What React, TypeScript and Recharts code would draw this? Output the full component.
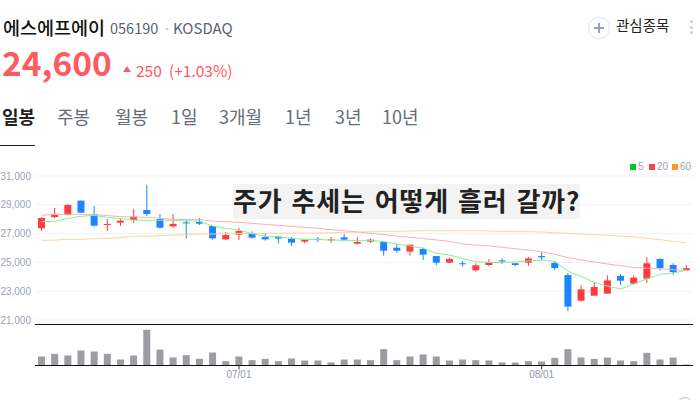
import React from "react";
import { ComposedChart, Bar, Line, XAxis, YAxis, CartesianGrid, ReferenceLine } from "recharts";

const dates = ["06/10","06/11","06/12","06/13","06/14","06/17","06/18","06/19","06/20","06/21","06/24","06/25","06/26","06/27","06/28","07/01","07/02","07/03","07/04","07/05","07/08","07/09","07/10","07/11","07/12","07/15","07/16","07/17","07/18","07/19","07/22","07/23","07/24","07/25","07/26","07/29","07/30","07/31","08/01","08/02","08/05","08/06","08/07","08/08","08/09","08/12","08/13","08/14","08/16","08/19"];
const open = [27370,28150,28290,29290,28360,27600,27760,27940,28640,28010,27500,27780,27830,27530,26600,26930,27020,26760,26790,26650,26440,26630,26560,26740,26300,26440,26420,26020,25750,25930,25440,24980,24940,24450,24820,25140,24940,24980,25440,24960,24120,22340,22690,22830,24060,23520,23870,25240,24820,24450];
const high = [28150,28780,29050,29290,28920,28010,28010,28710,30380,28360,28360,27940,28080,27530,27110,27410,27160,27020,26830,26760,26600,26760,26760,26970,26760,26650,26490,26280,26230,26020,25440,25330,25100,24940,25240,25280,24980,25370,25700,25100,24260,23410,23640,24100,24190,24100,25370,25280,24940,24800];
const low = [27200,28080,28270,28450,27500,27180,27530,27740,28220,27340,27410,26670,27600,26580,26560,26560,26650,26510,26320,26140,26320,26420,26370,26560,26230,26350,25470,25680,25470,25170,24800,24960,24700,24360,24730,24890,24730,24770,25140,24470,21620,22270,22690,22830,23430,23500,23590,24430,24150,24430];
const close = [28080,28290,28990,28450,27550,27670,27900,28180,28360,27410,27670,27710,27690,26670,26900,27180,26720,26600,26650,26370,26580,26580,26600,26580,26420,26580,25810,25810,26230,25540,24980,25240,24890,24800,24980,25100,24820,25280,25350,24610,21930,23130,23290,23750,23730,23940,24940,24610,24330,24600];
const ma5 = [27830,27850,28060,28200,28270,28130,28040,27940,27920,27920,27900,27900,27850,27530,27370,27250,27000,26810,26760,26670,26600,26580,26560,26530,26530,26530,26440,26280,26140,25980,25630,25510,25260,25050,25000,25000,25030,25100,25170,25070,24380,24010,23610,23360,23150,23500,23870,24170,24260,24470];
const ma20 = [28270,28340,28340,28340,28320,28250,28180,28150,28130,28060,27990,27990,27970,27870,27830,27780,27710,27640,27570,27500,27430,27370,27270,27200,27110,27020,26930,26830,26740,26650,26560,26460,26280,26210,26140,26050,25950,25860,25750,25560,25330,25170,25030,24890,24770,24650,24590,24560,24490,24470];
const ma60 = [26530,26550,26600,26600,26650,26670,26720,26810,26810,26860,26900,26930,26970,26970,27000,27020,27020,27020,27020,27040,27040,27040,27060,27090,27110,27130,27150,27150,27180,27200,27200,27200,27200,27200,27180,27150,27150,27130,27110,27060,27020,26970,26930,26880,26830,26770,26670,26580,26460,26370];
const volume = [27,35,30,45,42,35,18,30,107,48,24,31,20,39,13,27,16,20,13,21,15,15,9,18,18,16,49,16,27,33,27,15,18,16,15,9,9,13,12,23,49,24,20,24,15,13,38,18,24,3];
const priceTicks = [21000,23000,25000,27000,29000,31000];
const dateTicks = ["07/01","08/01"];
const tabs = ["일봉","주봉","월봉","1일","3개월","1년","3년","10년"];
const tabLeft = [2,57,115,171,219,285,335,382];
const legendItems = [
  { label: "5", color: "#00c82d", left: 630 },
  { label: "20", color: "#ff4048", left: 649 },
  { label: "60", color: "#ff9a1f", left: 672 },
];

const table = dates.map((date, i) => ({
  date,
  open: open[i],
  close: close[i],
  range: [low[i], high[i]],
  ma5: ma5[i],
  ma20: ma20[i],
  ma60: ma60[i],
  volume: volume[i],
}));

const KR = '"Noto Sans CJK KR", sans-serif';
const LAT = '"Liberation Sans", Arial, sans-serif';
const RED = "#ff3b3f";
const BLUE = "#1b84ff";

function Candle(props: any) {
  const { x, y, width, height, payload } = props;
  const hi = payload.range[1];
  const lo = payload.range[0];
  const perPrice = height / (hi - lo);
  const toY = (p: number) => y + (hi - p) * perPrice;
  const up = payload.close >= payload.open;
  const color = up ? RED : BLUE;
  const top = toY(Math.max(payload.open, payload.close));
  const bottom = toY(Math.min(payload.open, payload.close));
  const cx = x + width / 2;
  return (
    <g>
      <rect x={cx - 0.5} y={y} width={1} height={height} fill={color} />
      <rect x={x} y={top} width={width} height={Math.max(bottom - top, 1)} fill={color} />
    </g>
  );
}

const abs = (left: number, top: number, extra: React.CSSProperties = {}): React.CSSProperties => ({
  position: "absolute",
  left,
  top,
  whiteSpace: "nowrap",
  ...extra,
});

export default function App() {
  return (
    <div style={{ position: "absolute", left: 0, top: 0, width: 700, height: 400, background: "#fff", overflow: "hidden", fontFamily: KR }}>
      <div style={abs(3, 14, { fontSize: 18.5, fontWeight: 500, color: "#111", lineHeight: "26px" })}>에스에프에이</div>
      <div style={abs(110, 18, { fontSize: 14.5, color: "#5b6270", lineHeight: "20px" })}>056190</div>
      <div style={abs(163, 18, { fontSize: 14, color: "#b5b9c0", lineHeight: "20px" })}>·</div>
      <div style={abs(173, 18, { fontSize: 15, color: "#5b6270", lineHeight: "20px" })}>KOSDAQ</div>
      <div style={abs(2, 46, { fontSize: 33.5, fontWeight: 700, color: "#ff5a5f", lineHeight: "32px" })}>24,600</div>
      <div style={{ position: "absolute", left: 123, top: 66, width: 0, height: 0, borderLeft: "4px solid transparent", borderRight: "4px solid transparent", borderBottom: "6px solid #ff5a5f" }} />
      <div style={abs(136, 60, { fontSize: 15.5, color: "#ff5a5f", lineHeight: "20px" })}>250</div>
      <div style={abs(169, 60, { fontSize: 15.5, color: "#ff5a5f", lineHeight: "20px" })}>(+1.03%)</div>

      <div style={{ position: "absolute", left: 588, top: 17, width: 22, height: 22, borderRadius: 11, border: "1px solid #dfe4ec", boxSizing: "border-box" }} />
      <div style={{ position: "absolute", left: 594, top: 27, width: 10, height: 2, background: "#98a3b3" }} />
      <div style={{ position: "absolute", left: 598, top: 23, width: 2, height: 10, background: "#98a3b3" }} />
      <div style={abs(616, 15, { fontSize: 14.5, color: "#222", lineHeight: "20px" })}>관심종목</div>
      {[20, 26, 31].map((t) => (
        <div key={t} style={{ position: "absolute", left: 690, top: t, width: 3, height: 3, borderRadius: 2, background: "#c8cedb" }} />
      ))}

      {tabs.map((t, i) => (
        <div key={t} style={abs(tabLeft[i], 103, { fontSize: 18, lineHeight: "26px", fontWeight: i === 0 ? 700 : 400, color: i === 0 ? "#222" : "#666d78" })}>{t}</div>
      ))}
      <div style={{ position: "absolute", left: 0, top: 145, width: 35, height: 1, background: "#222" }} />

      <div style={{ position: "absolute", left: 0, top: 160 }}>
        <ComposedChart width={700} height={170} data={table} margin={{ top: 16, right: 7, bottom: 10, left: 0 }}>
          <CartesianGrid horizontal vertical={false} stroke="#f0f3f7" />
          <XAxis dataKey="date" hide />
          <YAxis
            width={35}
            domain={[21000, 31000]}
            ticks={priceTicks}
            axisLine={false}
            tickLine={false}
            interval={0}
            tickSize={4}
            tickMargin={0}
            tickFormatter={(v: number) => v.toLocaleString("en-US")}
            tick={{ fontSize: 10, fontFamily: LAT, fill: "#9aa3b2" }}
          />
          <Line dataKey="ma60" stroke="#ffd3a3" strokeWidth={1} dot={false} isAnimationActive={false} />
          <Line dataKey="ma20" stroke="#ffaeb0" strokeWidth={1} dot={false} isAnimationActive={false} />
          <Line dataKey="ma5" stroke="#86f08c" strokeWidth={1} dot={false} isAnimationActive={false} />
          <Bar dataKey="range" barSize={7} shape={<Candle />} isAnimationActive={false} />
        </ComposedChart>
      </div>

      {legendItems.map((it) => (
        <React.Fragment key={it.label}>
          <div style={{ position: "absolute", left: it.left, top: 164, width: 6, height: 6, background: it.color }} />
          <div style={abs(it.left + 8, 161, { fontFamily: LAT, fontSize: 10, color: "#9aa3b2", lineHeight: "12px" })}>{it.label}</div>
        </React.Fragment>
      ))}

      <div style={{ position: "absolute", left: 0, top: 320 }}>
        <ComposedChart width={700} height={80} data={table} margin={{ top: 4.5, right: 7, bottom: 0, left: 35 }}>
          <XAxis
            dataKey="date"
            ticks={dateTicks}
            interval={0}
            height={34.5}
            axisLine={{ stroke: "#111", strokeWidth: 1 }}
            tickLine={{ stroke: "#333" }}
            tickSize={4}
            tickMargin={1}
            tick={{ fontSize: 10, fontFamily: LAT, fill: "#8f98aa" }}
          />
          <YAxis hide domain={[0, 123]} />
          <ReferenceLine y={123} stroke="#111" strokeWidth={1} />
          <Bar dataKey="volume" barSize={7} fill="#9c9ca2" isAnimationActive={false} />
        </ComposedChart>
      </div>

      <div style={abs(233, 184, { width: 347, height: 35, background: "#f3f3f3", fontSize: 26, fontWeight: 700, color: "#222", lineHeight: "31px", textAlign: "center", letterSpacing: 0.9, wordSpacing: 2 })}>
        주가 추세는 어떻게 흘러 갈까?
      </div>

      <div style={{ position: "absolute", left: 677, top: 397, width: 16, height: 16, borderRadius: 8, border: "1px solid #bbb", boxSizing: "border-box" }} />
    </div>
  );
}
